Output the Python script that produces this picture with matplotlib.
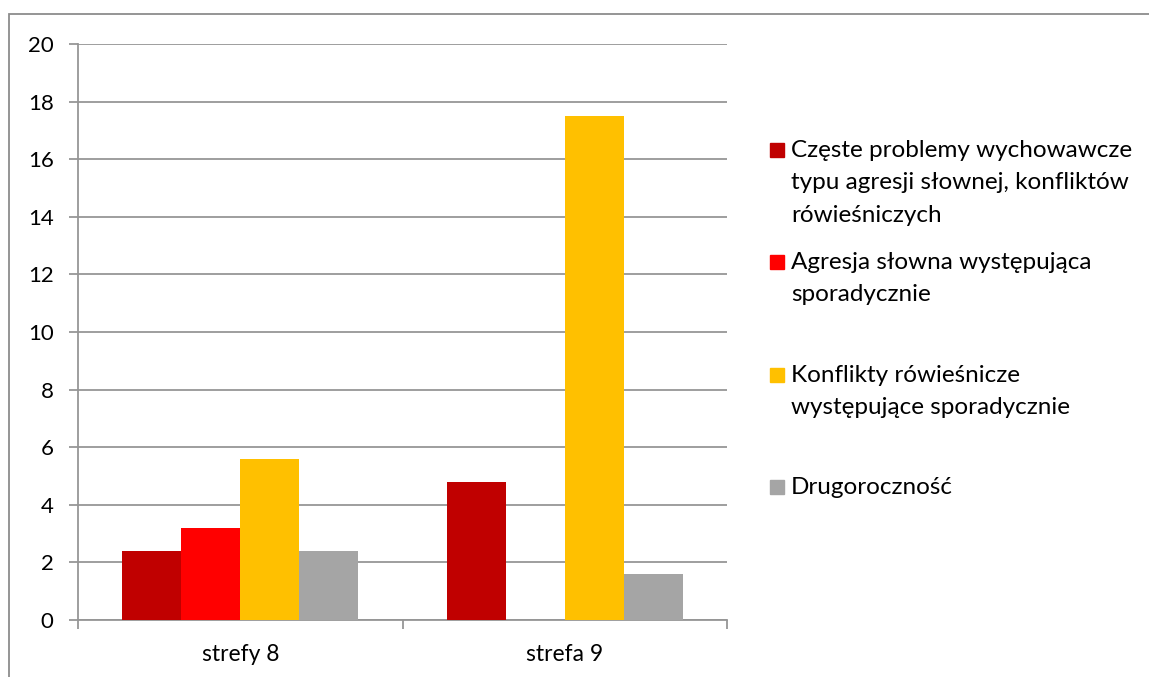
import numpy as np
import matplotlib
matplotlib.use("Agg")
import matplotlib.pyplot as plt
from matplotlib.patches import Rectangle

# data
categories = ["strefy 8", "strefa 9"]
series_names = [
    "Częste problemy wychowawcze\ntypu agresji słownej, konfliktów\nrówieśniczych",
    "Agresja słowna występująca\nsporadycznie",
    "Konflikty rówieśnicze\nwystępujące sporadycznie",
    "Drugoroczność",
]
values = [
    [2.4, 4.8],   # częste problemy
    [3.2, 0.0],   # agresja słowna
    [5.6, 17.5],  # konflikty
    [2.4, 1.6],   # drugoroczność
]
colors = ["#c00000", "#ff0000", "#ffc000", "#a5a5a5"]

plt.rcParams["font.family"] = ["Lato", "DejaVu Sans"]
grid_col = "#969696"

fig = plt.figure(figsize=(11.49, 6.77), dpi=100)
W, H = 1149, 677
ax = fig.add_axes([78 / W, 1 - 620 / H, (727 - 78) / W, (620 - 44) / H])

# excel style: gap width 150%
n = len(series_names)
bw = 1 / (n + 1.5)
x = np.arange(len(categories))
for i, (name, vals, c) in enumerate(zip(series_names, values, colors)):
    offs = (i - (n - 1) / 2) * bw
    ax.bar(x + offs, vals, width=bw, color=c, zorder=3, linewidth=0)

ax.set_xlim(-0.5, len(categories) - 0.5)
ax.set_ylim(0, 20)
ax.set_yticks(np.arange(0, 21, 2))
ax.yaxis.grid(True, color=grid_col, linewidth=1.3, zorder=0)
ax.set_xticks(x)
ax.set_xticklabels(categories)
ax.set_xticks(np.arange(-0.5, len(categories), 1), minor=True)
ax.tick_params(axis="x", which="major", length=0, pad=17, labelsize=16.5)
ax.tick_params(axis="x", which="minor", length=6.5, color=grid_col, width=1.3)
ax.tick_params(axis="y", length=6.5, color=grid_col, width=1.3, pad=11, labelsize=16)
for s in ["top", "right"]:
    ax.spines[s].set_visible(False)
for s in ["left", "bottom"]:
    ax.spines[s].set_color(grid_col)
    ax.spines[s].set_linewidth(1.3)

# legend drawn by hand to keep excel's uneven spacing
legend_y = [150, 262, 375, 487]
line_h = 32.5
for name, c, ly in zip(series_names, colors, legend_y):
    fig.patches.append(Rectangle((770 / W, 1 - (ly + 7) / H), 14 / W, 14 / H,
                                 transform=fig.transFigure, color=c))
    for k, line in enumerate(name.split("\n")):
        fig.text(791 / W, 1 - (ly + 7 + k * line_h) / H, line, fontsize=17.5,
                 va="baseline", ha="left")

# outer chart border (cropped on the right and bottom)
fig.patches.append(Rectangle((9 / W, -0.1), 1.2, 1 - 14 / H + 0.1,
                             transform=fig.transFigure, fill=False,
                             edgecolor="#8c8c8c", linewidth=1.3))

fig.savefig("out.png", dpi=100)
